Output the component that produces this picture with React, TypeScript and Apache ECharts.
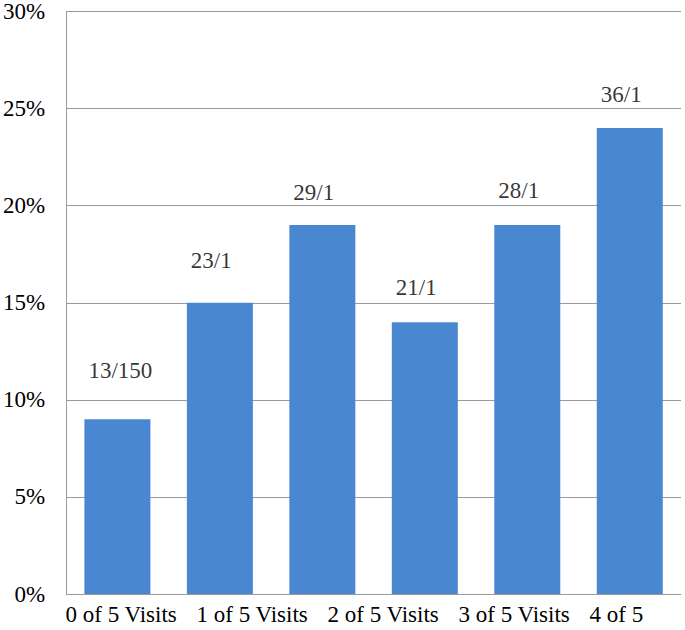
import React, { useEffect, useRef } from "react";
import * as echarts from "echarts";

const categories = ["0 of 5", "1 of 5", "2 of 5", "3 of 5", "4 of 5", "5 of 5"];
const barValues = [9, 15, 19, 14, 19, 24];
const barLabels = ["13/150", "23/1", "29/1", "21/1", "28/1", "36/1"];
const labelLevels = [11.5, 17.2, 20.7, 15.8, 20.8, 25.7];
const axisLabels = ["0 of 5 Visits", "1 of 5 Visits", "2 of 5 Visits", "3 of 5 Visits", "4 of 5"];
const yMin = 0;
const yMax = 30;
const yStep = 5;

const FONT = "'Liberation Serif', 'Times New Roman', serif";

export default function App() {
  const ref = useRef<HTMLDivElement>(null);
  useEffect(() => {
    if (!ref.current) return;
    const chart = echarts.init(ref.current, null, { renderer: "svg" });
    chart.setOption({
      animation: false,
      backgroundColor: "#ffffff",
      grid: [
        { left: 64, right: 4, top: 11, bottom: 36 },
        { left: 0, right: 30, top: 580, bottom: 36 },
      ],
      xAxis: [
        {
          type: "category",
          gridIndex: 0,
          data: categories,
          axisLine: { show: true, lineStyle: { color: "#9a9a9a", width: 1 } },
          axisTick: { show: false },
          axisLabel: { show: false },
        },
        {
          type: "category",
          gridIndex: 1,
          data: axisLabels,
          axisLine: { show: false },
          axisTick: { show: false },
          axisLabel: {
            show: true,
            interval: 0,
            align: "left",
            margin: 9,
            color: "#000",
            fontSize: 23,
            fontFamily: FONT,
          },
        },
      ],
      yAxis: [
        {
          type: "value",
          gridIndex: 0,
          min: yMin,
          max: yMax,
          interval: yStep,
          axisLine: { show: true, lineStyle: { color: "#9a9a9a", width: 1 } },
          axisTick: { show: false },
          splitLine: { show: true, lineStyle: { color: "#9a9a9a", width: 1 } },
          axisLabel: {
            formatter: "{value}%",
            color: "#000",
            fontSize: 23,
            fontFamily: FONT,
            margin: 21,
          },
        },
        { type: "value", gridIndex: 1, show: false },
      ],
      series: [
        {
          type: "bar",
          xAxisIndex: 0,
          yAxisIndex: 0,
          data: barValues,
          barWidth: 66,
          itemStyle: { color: "#4a87d1" },
        },
        {
          type: "scatter",
          xAxisIndex: 0,
          yAxisIndex: 0,
          data: labelLevels,
          symbolSize: 0,
          silent: true,
          label: {
            show: true,
            position: "inside",
            align: "left",
            offset: [-29, 0],
            formatter: (p: any) => barLabels[p.dataIndex],
            color: "#000",
            fontSize: 23,
            fontFamily: FONT,
          },
        },
      ],
    });
    return () => chart.dispose();
  }, []);
  return (
    <div
      ref={ref}
      style={{ position: "absolute", left: 0, top: 0, width: 685, height: 630 }}
    />
  );
}
